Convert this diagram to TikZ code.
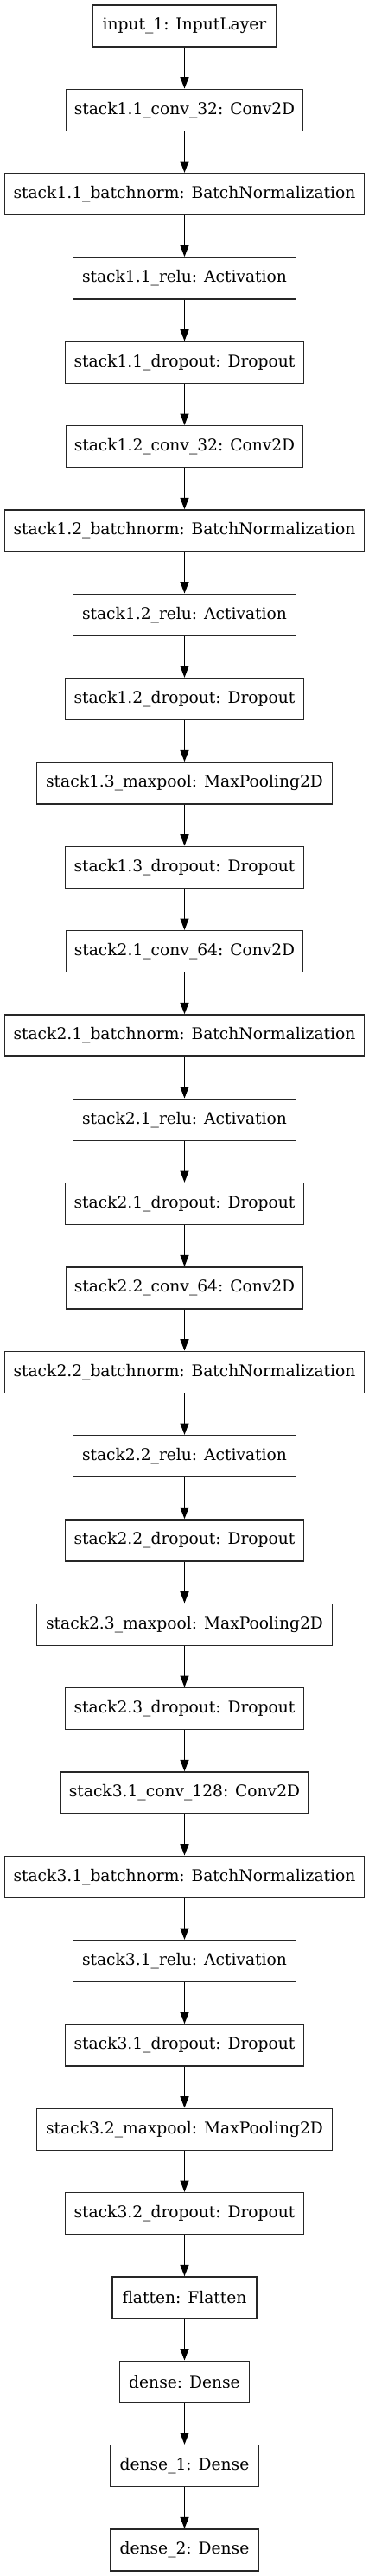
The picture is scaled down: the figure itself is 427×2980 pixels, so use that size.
\documentclass[tikz,border=0pt]{standalone}
\usepackage{fontspec}
\setmainfont{DejaVu Serif}
\usetikzlibrary{arrows.meta}
\tikzset{
  layer/.style={draw=black!85, line width=1pt, fill=white, minimum height=36pt, inner xsep=2pt, inner ysep=0pt, font=\fontsize{14pt}{16pt}\selectfont},
  arr/.style={draw=black, line width=0.9pt, -{Triangle[length=10pt,width=7.5pt]}}
}
\begin{document}
\begin{tikzpicture}[x=0.75pt,y=-0.75pt]
\useasboundingbox (0,0) rectangle (427,2980);
\foreach \t/\w [count=\i from 0] in {
input\_1: InputLayer/212,
stack1.1\_conv\_32: Conv2D/274,
stack1.1\_batchnorm: BatchNormalization/416,
stack1.1\_relu: Activation/258,
stack1.1\_dropout: Dropout/276,
stack1.2\_conv\_32: Conv2D/274,
stack1.2\_batchnorm: BatchNormalization/416,
stack1.2\_relu: Activation/258,
stack1.2\_dropout: Dropout/276,
stack1.3\_maxpool: MaxPooling2D/342,
stack1.3\_dropout: Dropout/276,
stack2.1\_conv\_64: Conv2D/274,
stack2.1\_batchnorm: BatchNormalization/416,
stack2.1\_relu: Activation/258,
stack2.1\_dropout: Dropout/276,
stack2.2\_conv\_64: Conv2D/274,
stack2.2\_batchnorm: BatchNormalization/416,
stack2.2\_relu: Activation/258,
stack2.2\_dropout: Dropout/276,
stack2.3\_maxpool: MaxPooling2D/342,
stack2.3\_dropout: Dropout/276,
stack3.1\_conv\_128: Conv2D/287,
stack3.1\_batchnorm: BatchNormalization/416,
stack3.1\_relu: Activation/258,
stack3.1\_dropout: Dropout/276,
stack3.2\_maxpool: MaxPooling2D/342,
stack3.2\_dropout: Dropout/276,
flatten: Flatten/167,
dense: Dense/150,
dense\_1: Dense/171,
dense\_2: Dense/171}
{
  \node[layer, minimum width={\w*0.75pt}] (n\i) at (213.5, {29.85+97.333*\i}) {\t};
}
\foreach \i in {1,...,30} {
  \pgfmathtruncatemacro\j{\i-1}
  \draw[arr] (n\j) -- (n\i);
}
\end{tikzpicture}
\end{document}
